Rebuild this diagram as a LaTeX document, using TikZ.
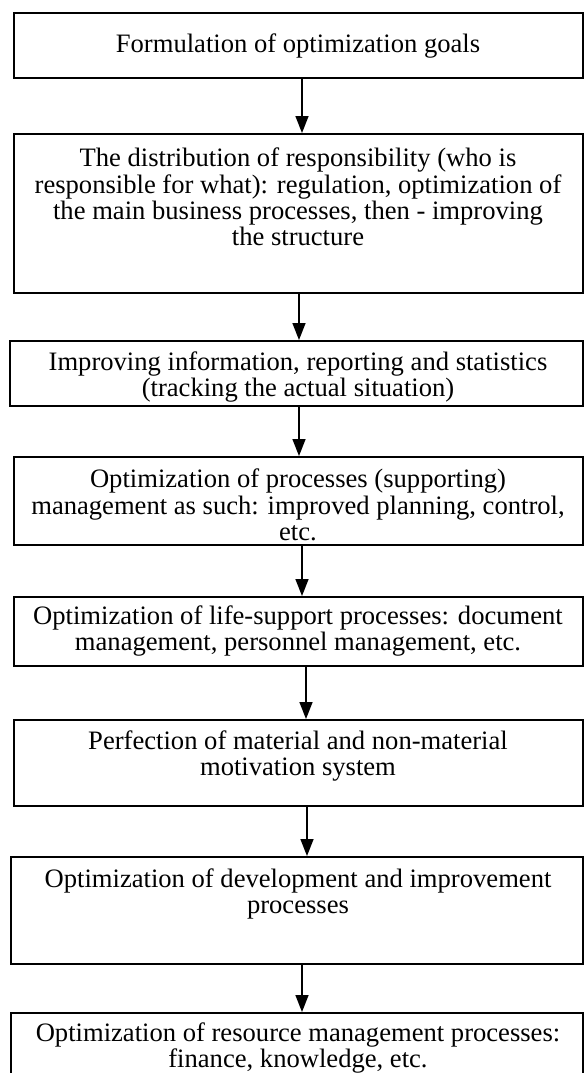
\documentclass[tikz,border=0pt]{standalone}
\usepackage{fontspec}
\setmainfont{Liberation Serif}
\usetikzlibrary{arrows.meta,fit}
\begin{document}
\begin{tikzpicture}[x=0.5pt,y=-0.5pt,
  stagebox/.style={draw=black, line width=1pt, inner sep=0pt, rectangle},
  stagetext/.style={align=center, inner sep=0pt, font=\fontsize{13.3}{13.2}\selectfont},
  flow/.style={draw=black, line width=0.8pt, -{Triangle[width=6.5pt,length=8.5pt]}}]
\useasboundingbox (0,0) rectangle (584,1073);

% stage frames
\node[stagebox, fit={(14,13) (583,78)}]    (b1) {};
\node[stagebox, fit={(14,134) (583,293)}]  (b2) {};
\node[stagebox, fit={(10,341) (583,406)}]  (b3) {};
\node[stagebox, fit={(14,457) (583,545)}]  (b4) {};
\node[stagebox, fit={(14,597) (583,666)}]  (b5) {};
\node[stagebox, fit={(14,720) (583,806)}]  (b6) {};
\node[stagebox, fit={(11,857) (583,964)}]  (b7) {};
\node[stagebox, fit={(11,1013) (583,1110)}] (b8) {};

% stage texts
\node[stagetext] (t1) at (298,46) {Formulation of optimization goals};
\node[stagetext] (t2) at (298,197) {The distribution of responsibility (who is\\responsible for what): regulation, optimization of\\the main business processes, then - improving\\the structure};
\node[stagetext] (t3) at (298,377) {Improving information, reporting and statistics\\(tracking the actual situation)};
\node[stagetext] (t4) at (298,505) {Optimization of processes (supporting)\\management as such: improved planning, control,\\etc.};
\node[stagetext] (t5) at (298,631) {Optimization of life-support processes: document\\management, personnel management, etc.};
\node[stagetext] (t6) at (298,756) {Perfection of material and non-material\\motivation system};
\node[stagetext] (t7) at (298,894) {Optimization of development and improvement\\processes};
\node[stagetext] (t8) at (298,1048) {Optimization of resource management processes:\\finance, knowledge, etc.};

% connectors
\draw[flow] (b1.south -| 302,0) -- (b2.north -| 302,0);
\draw[flow] (b2.south -| 299,0) -- (b3.north -| 299,0);
\draw[flow] (b3.south -| 299,0) -- (b4.north -| 299,0);
\draw[flow] (b4.south -| 302,0) -- (b5.north -| 302,0);
\draw[flow] (b5.south -| 306,0) -- (b6.north -| 306,0);
\draw[flow] (b6.south -| 307,0) -- (b7.north -| 307,0);
\draw[flow] (b7.south -| 302,0) -- (b8.north -| 302,0);
\end{tikzpicture}
\end{document}
